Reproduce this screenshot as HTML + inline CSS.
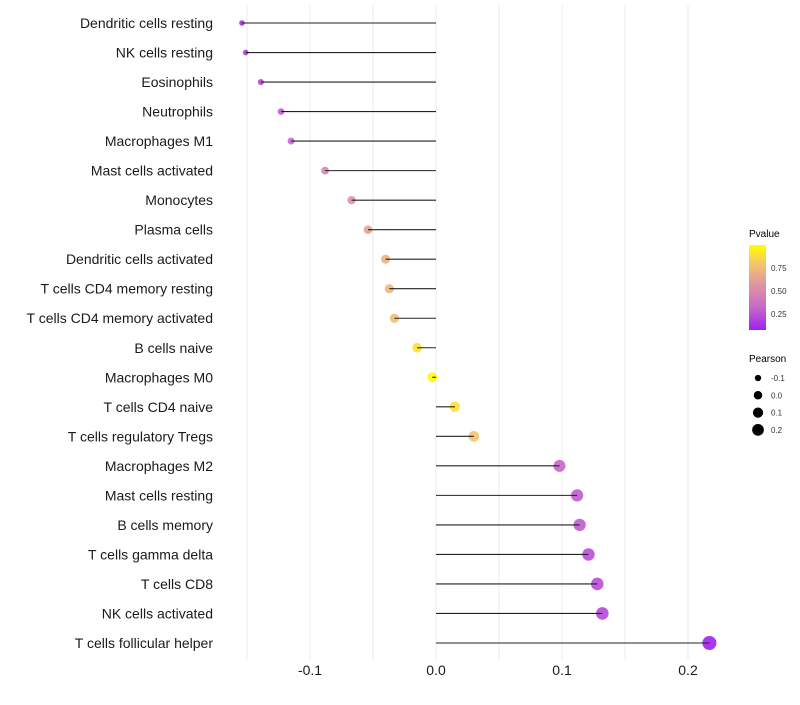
<!DOCTYPE html>
<html><head><meta charset="utf-8"><style>
body{margin:0;background:#fff;font-family:"Liberation Sans",sans-serif}
svg text{font-family:"Liberation Sans",sans-serif}
</style></head><body>
<svg id="chart" width="800" height="700" xmlns="http://www.w3.org/2000/svg">
<defs><linearGradient id="pg" x1="0" y1="1" x2="0" y2="0">
<stop offset="0" stop-color="#a020f0"/><stop offset="0.27" stop-color="#c86ac8"/><stop offset="0.5" stop-color="#dc8fa8"/><stop offset="0.76" stop-color="#f3c070"/><stop offset="1" stop-color="#ffff00"/></linearGradient></defs>
<g id="grid"></g>
<g id="points"></g>
<g id="marks"></g>
<g id="ylab"></g>
<g id="xlab"></g>
<g>
<text x="749" y="237" font-size="10">Pvalue</text>
<rect x="749" y="245" width="17" height="85" fill="url(#pg)"/>
<text x="771" y="271" font-size="8" fill="#333">0.75</text>
<text x="771" y="294" font-size="8" fill="#333">0.50</text>
<text x="771" y="317" font-size="8" fill="#333">0.25</text>
</g>
<g id="sizeleg">
<text x="749" y="362" font-size="10">Pearson</text>
</g>
</svg>
<script>
const categories=["Dendritic cells resting","NK cells resting","Eosinophils","Neutrophils","Macrophages M1","Mast cells activated","Monocytes","Plasma cells","Dendritic cells activated","T cells CD4 memory resting","T cells CD4 memory activated","B cells naive","Macrophages M0","T cells CD4 naive","T cells regulatory  Tregs ","Macrophages M2","Mast cells resting","B cells memory","T cells gamma delta","T cells CD8","NK cells activated","T cells follicular helper"];
const pearson=[-0.154,-0.151,-0.139,-0.123,-0.115,-0.088,-0.067,-0.054,-0.040,-0.037,-0.033,-0.015,-0.003,0.015,0.030,0.098,0.112,0.114,0.121,0.128,0.132,0.217];
const pvalues=[0.12,0.15,0.2,0.27,0.3,0.45,0.55,0.62,0.7,0.72,0.76,0.88,0.98,0.88,0.78,0.3,0.26,0.26,0.22,0.22,0.2,0.07];
const xTicks=[-0.1,0,0.1,0.2];
const xTickLabels=["-0.1","0.0","0.1","0.2"];
const sizeLegend=[-0.1,0,0.1,0.2];
const ns="http://www.w3.org/2000/svg";
const X=v=>436+v*1260;
const Y=i=>23+i*(620/21);
const R=v=>Math.sqrt(Math.max(2,25+112*v));
const stops=[[0,[160,32,240]],[0.27,[200,106,200]],[0.5,[220,143,168]],[0.76,[243,192,112]],[1,[255,255,0]]];
function col(p){const t=Math.min(1,Math.max(0,(p-0.065)/(0.99-0.065)));for(let k=1;k<stops.length;k++){if(t<=stops[k][0]){const a=stops[k-1],b=stops[k],f=(t-a[0])/(b[0]-a[0]);return"rgb("+a[1].map((c,j)=>Math.round(c+(b[1][j]-c)*f)).join(",")+")";}}return"rgb(255,255,0)";}
function mk(t,at,parent){const e=document.createElementNS(ns,t);for(const k in at)e.setAttribute(k,at[k]);parent.appendChild(e);return e;}
const grid=document.getElementById('grid');
for(let g=-0.15;g<=0.2001;g+=0.05){const l=mk('line',{x1:X(g),x2:X(g),y1:5,y2:660,stroke:'#ebebeb','stroke-width':1},grid);

}
const marks=document.getElementById('marks');
const pts=document.getElementById('points');
categories.forEach((c,i)=>{
const p=mk('circle',{cx:X(pearson[i]),cy:Y(i),r:R(pearson[i]),fill:col(pvalues[i]),'fill-opacity':0.9},pts);


const s=mk('line',{x1:X(0),x2:X(pearson[i]),y1:Y(i),y2:Y(i),stroke:'#222','stroke-width':1.1},marks);


const t=mk('text',{x:213,y:Y(i)+5,'font-size':14,'text-anchor':'end',fill:'#1a1a1a'},document.getElementById('ylab'));
t.textContent=c;


});
xTicks.forEach((v,i)=>{const t=mk('text',{x:X(v),y:675,'font-size':14,'text-anchor':'middle',fill:'#1a1a1a'},document.getElementById('xlab'));
t.textContent=xTickLabels[i];

});
const sl=document.getElementById('sizeleg');
sizeLegend.forEach((v,i)=>{const y=378+i*17.3;
const c=mk('circle',{cx:758,cy:y,r:R(v)*0.85,fill:'#000'},sl);


const t=mk('text',{x:771,y:y+3,'font-size':8,fill:'#333'},sl);t.textContent=["-0.1","0.0","0.1","0.2"][i];

});
</script>
</body></html>
